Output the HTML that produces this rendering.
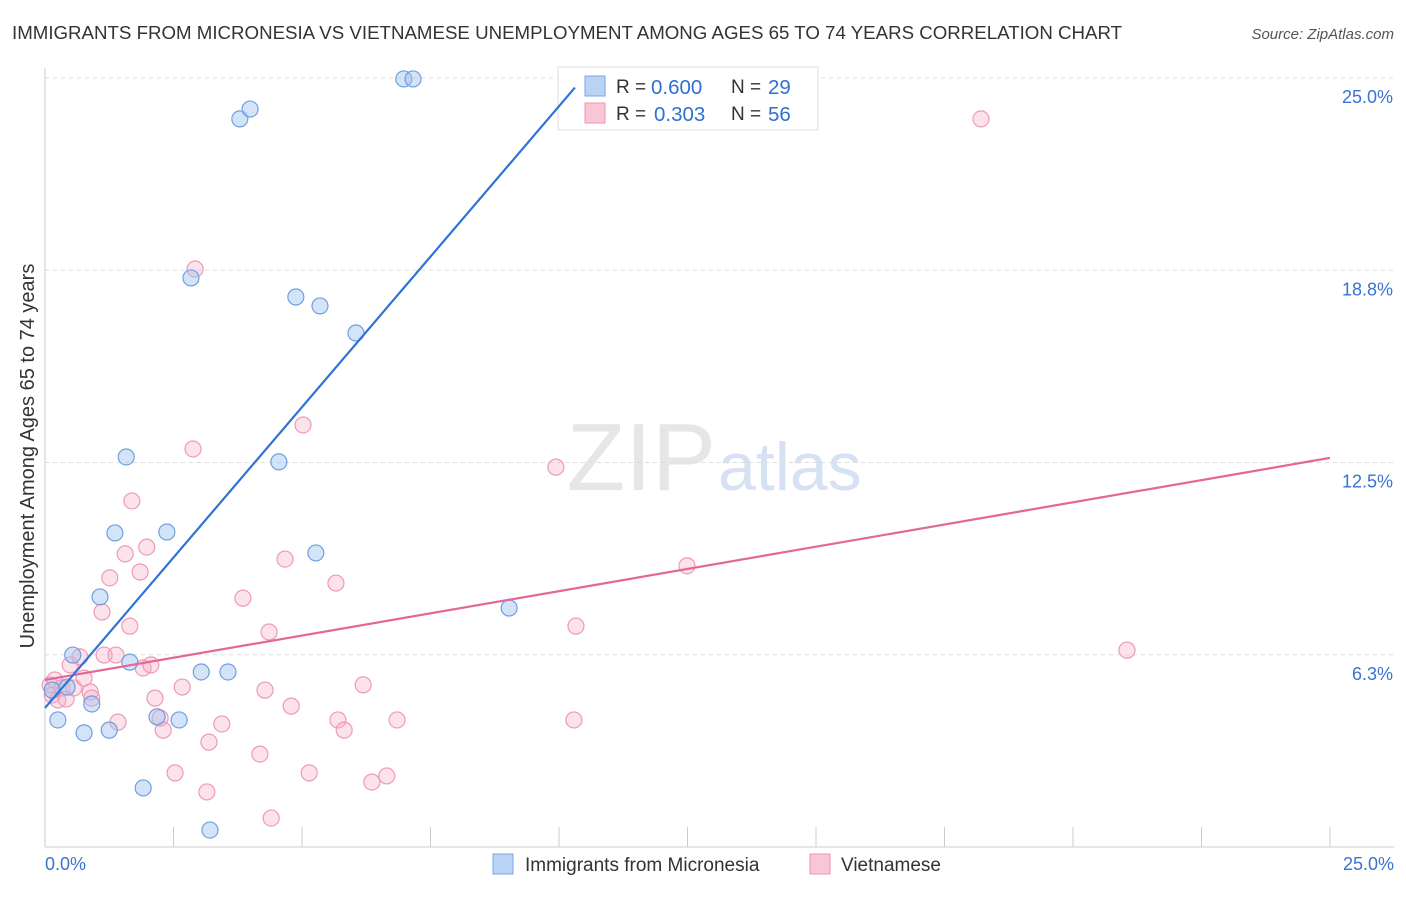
<!DOCTYPE html>
<html><head><meta charset="utf-8"><style>
body{margin:0;background:#fff;font-family:"Liberation Sans",sans-serif;}
svg text{font-family:"Liberation Sans",sans-serif;}
</style></head><body>
<svg id="chart" width="1406" height="892">
<text x="12" y="39" font-size="18.7" fill="#333">IMMIGRANTS FROM MICRONESIA VS VIETNAMESE UNEMPLOYMENT AMONG AGES 65 TO 74 YEARS CORRELATION CHART</text>
<text x="1394" y="39" font-size="15" fill="#555" text-anchor="end" font-style="italic">Source: ZipAtlas.com</text>
<text x="716" y="490" font-size="96" fill="#e6e6e6" text-anchor="end" font-family="Liberation Serif">ZIP</text>
<text x="718" y="490" font-size="68" fill="#d6e2f3">atlas</text>
<text transform="translate(34,456) rotate(-90)" font-size="20" fill="#333" text-anchor="middle">Unemployment Among Ages 65 to 74 years</text>
<g id="grid"></g><g id="marks"></g>
<g>
<rect x="558" y="67" width="260" height="63" fill="#fff" stroke="#ddd"/>
<rect x="585" y="76" width="20" height="20" fill="#b9d3f5" stroke="#7aa6e6"/>
<text x="616" y="93" font-size="19" fill="#333">R =</text>
<text x="651" y="94" font-size="20.5" fill="#2f6fd6">0.600</text>
<text x="731" y="93" font-size="19" fill="#333">N =</text>
<text x="768" y="94" font-size="20.5" fill="#2f6fd6">29</text>
<rect x="585" y="103" width="20" height="20" fill="#f9c6d5" stroke="#ee95b1"/>
<text x="616" y="120" font-size="19" fill="#333">R =</text>
<text x="654" y="121" font-size="20.5" fill="#2f6fd6">0.303</text>
<text x="731" y="120" font-size="19" fill="#333">N =</text>
<text x="768" y="121" font-size="20.5" fill="#2f6fd6">56</text>
</g>
<g id="over"></g>
<g>
<rect x="493" y="854" width="20" height="20" fill="#b9d3f5" stroke="#7aa6e6"/>
<text x="525" y="871" font-size="19" fill="#333">Immigrants from Micronesia</text>
<rect x="810" y="854" width="20" height="20" fill="#f9c6d5" stroke="#ee95b1"/>
<text x="841" y="871" font-size="19" fill="#333">Vietnamese</text>
</g>
</svg>
<script>
const blueX=[0.14,0.25,0.43,0.54,0.76,0.91,1.07,1.25,1.36,1.58,1.65,1.91,2.18,2.37,2.61,2.84,3.04,3.21,3.56,3.79,3.99,4.55,4.88,5.35,5.27,6.05,6.98,7.16,9.03];
const blueY=[5.10,4.13,5.20,6.24,3.71,4.65,8.13,3.80,10.21,12.68,6.01,1.92,4.23,10.24,4.13,18.50,5.69,0.55,5.69,23.67,23.99,12.52,17.88,17.59,9.56,16.71,24.97,24.97,7.77];
const pinkX=[0.10,0.14,0.19,0.25,0.33,0.41,0.49,0.56,0.68,0.76,0.88,0.91,1.11,1.15,1.26,1.38,1.42,1.56,1.65,1.69,1.85,1.91,1.98,2.06,2.14,2.24,2.30,2.53,2.67,2.88,2.92,3.15,3.19,3.44,3.85,4.18,4.28,4.36,4.40,4.67,4.79,5.02,5.14,5.66,5.70,5.82,6.19,6.36,6.65,6.85,9.94,10.29,10.33,12.49,18.21,21.05];
const pinkY=[5.27,4.94,5.43,4.78,5.17,4.81,5.92,5.17,6.18,5.49,5.04,4.84,7.64,6.24,8.75,6.24,4.06,9.53,7.18,11.25,8.94,5.82,9.75,5.92,4.84,4.19,3.80,2.41,5.20,12.94,18.79,1.79,3.41,4.00,8.09,3.02,5.10,6.99,0.94,9.36,4.58,13.72,2.41,8.58,4.13,3.80,5.27,2.11,2.31,4.13,12.35,4.13,7.18,9.14,23.67,6.40];
const blueLine=[[0,4.52],[10.31,24.69]];
const pinkLine=[[0,5.43],[25,12.65]];
const yTicks=[6.25,12.5,18.75,25];
const yTickLabels=["6.3%","12.5%","18.8%","25.0%"];
const xTicks=[0,2.5,5,7.5,10,12.5,15,17.5,20,22.5,25];
const X=v=>45+v*51.4, Y=v=>847-v*30.76;
const NS="http://www.w3.org/2000/svg";
function mk(tag,attrs,parent){const e=document.createElementNS(NS,tag);for(const k in attrs)e.setAttribute(k,attrs[k]);parent.appendChild(e);return e;}
const grid=document.getElementById('grid'),marks=document.getElementById('marks'),over=document.getElementById('over');
yTicks.forEach((t,i)=>{
 const l=mk('line',{x1:45,x2:1394,y1:Y(t),y2:Y(t),stroke:'#ddd','stroke-dasharray':'4,4'},grid);
 
 
 const tx=mk('text',{x:1393,y:Y(t)+25,'font-size':18,fill:'#3a73d0','text-anchor':'end'},grid);
 tx.textContent=yTickLabels[i];
 
 
});
const ax=mk('line',{x1:45,x2:1394,y1:847,y2:847,stroke:'#ccc'},grid);


const ay=mk('line',{x1:45,x2:45,y1:68,y2:847,stroke:'#ccc'},grid);


xTicks.forEach(t=>{
 const l=mk('line',{x1:X(t),x2:X(t),y1:827,y2:847,stroke:'#ccc'},grid);
 
 
});
[[0,"0.0%","start",45],[25,"25.0%","end",1394]].forEach(d=>{
 const tx=mk('text',{x:d[3],y:870,'font-size':18,fill:'#3a73d0','text-anchor':d[2]},grid);
 tx.textContent=d[1];
 
 
});
pinkX.forEach((v,i)=>{
 const c=mk('circle',{cx:X(v),cy:Y(pinkY[i]),r:8,fill:'rgba(246,172,196,0.35)',stroke:'#ef9ab6','stroke-width':1.2},marks);
 
 
});
blueX.forEach((v,i)=>{
 const c=mk('circle',{cx:X(v),cy:Y(blueY[i]),r:8,fill:'rgba(160,196,240,0.45)',stroke:'#6f9fe0','stroke-width':1.2},marks);
 
 
});
const pl=mk('line',{x1:X(pinkLine[0][0]),y1:Y(pinkLine[0][1]),x2:X(pinkLine[1][0]),y2:Y(pinkLine[1][1]),stroke:'#e4679a','stroke-width':2.2},marks);


const bl=mk('line',{x1:X(blueLine[0][0]),y1:Y(blueLine[0][1]),x2:X(blueLine[1][0]),y2:Y(blueLine[1][1]),stroke:'#2f72d8','stroke-width':2.2},over);


</script>
</body></html>
